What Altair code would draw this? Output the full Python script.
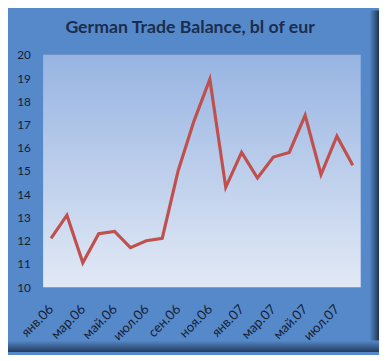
import altair as alt
import pandas as pd

months = ["янв.06", "фев.06", "мар.06", "апр.06", "май.06", "июн.06", "июл.06", "авг.06",
          "сен.06", "окт.06", "ноя.06", "дек.06", "янв.07", "фев.07", "мар.07", "апр.07",
          "май.07", "июн.07", "июл.07", "авг.07"]
values = [12.1, 13.1, 11.05, 12.3, 12.4, 11.7, 12.0, 12.1, 15.0, 17.15,
          18.95, 14.3, 15.8, 14.7, 15.6, 15.8, 17.4, 14.85, 16.5, 15.25]
label_months = months[::2]
y_ticks = list(range(10, 21))
title_text = "German Trade Balance, bl of eur"

W, H = 323, 236.3
df = pd.DataFrame({"month": months, "value": values})
one = pd.DataFrame({"k": [0]})

xenc = alt.X("month:N", sort=months, scale=alt.Scale(type="point", padding=0.5),
             axis=alt.Axis(values=label_months, labelAngle=315, labelAlign="right",
                           labelBaseline="middle", labelPadding=20, ticks=False,
                           domain=False, grid=False, title=None, labelFont="Lato",
                           labelFontSize=13.5, labelColor="#151d35"))
yenc = alt.Y("value:Q", scale=alt.Scale(domain=[10, 20], nice=False, zero=False),
             axis=alt.Axis(values=y_ticks, ticks=False, domain=False, grid=True,
                           gridColor="#858585", gridOpacity=1, gridWidth=1.2,
                           labelPadding=13, title=None, labelFont="Lato",
                           labelFontSize=12, labelColor="#151d35"))

plot_bg = alt.Chart(one).mark_rect(
    fill=alt.Gradient(gradient="linear", x1=0, y1=0, x2=0, y2=1,
                      stops=[alt.GradientStop(offset=0, color="#97b4e2"),
                             alt.GradientStop(offset=1, color="#e2e9f5")])
).encode(x=alt.value(0), x2=alt.value(W), y=alt.value(0), y2=alt.value(H))

right_bevel = alt.Chart(one).mark_rect(
    fill=alt.Gradient(gradient="linear", x1=0, y1=0, x2=1, y2=0,
                      stops=[alt.GradientStop(offset=0, color="#5689c9"),
                             alt.GradientStop(offset=1, color="#1f3656")])
).encode(x=alt.value(332), x2=alt.value(341.6), y=alt.value(-45), y2=alt.value(302.3))

bottom_bevel = alt.Chart(one).mark_rect(
    fill=alt.Gradient(gradient="linear", x1=0, y1=0, x2=0, y2=1,
                      stops=[alt.GradientStop(offset=0, color="#5689c9"),
                             alt.GradientStop(offset=1, color="#223a5c")])
).encode(x=alt.value(-36), x2=alt.value(341.6), y=alt.value(290.5), y2=alt.value(302.3))

title = alt.Chart(one).mark_text(
    font="Lato", fontSize=18, fontWeight="bold", color="#1b2d4f",
    align="center", baseline="alphabetic"
).encode(x=alt.value(149.5), y=alt.value(-22.5), text=alt.value(title_text))

line = alt.Chart(df).mark_line(color="#c0504d", strokeWidth=3.2).encode(x=xenc, y=yenc)

chart = alt.layer(plot_bg, right_bevel, bottom_bevel, title, line).properties(
    width=W, height=H,
    autosize=alt.AutoSizeParams(type="none"),
    padding={"left": 35.7, "top": 44.7, "right": 18.6, "bottom": 66},
    background="#5689c9",
).configure_view(stroke=None)

chart.save("out.html", embed_options={"renderer": "svg", "actions": False})
